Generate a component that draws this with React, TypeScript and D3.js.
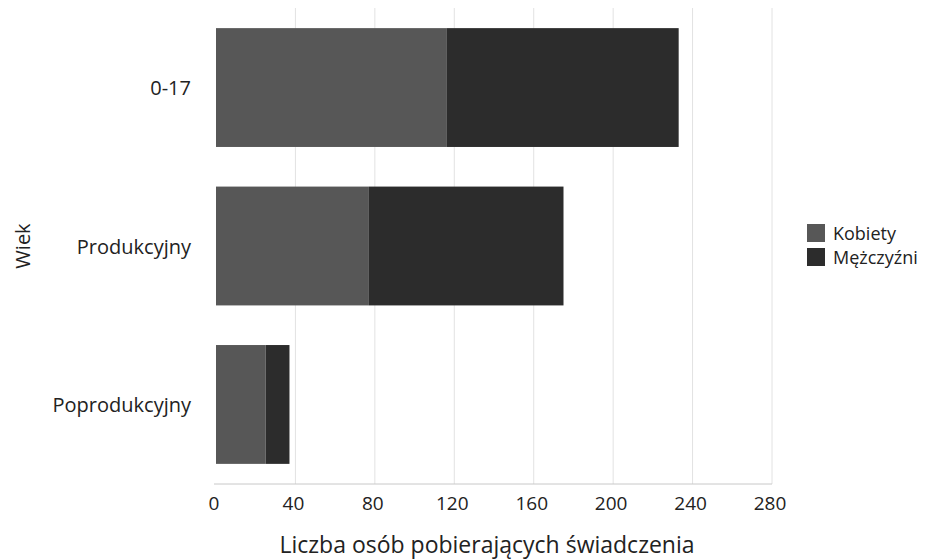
import React from "react";
import * as d3 from "d3";

const categories = ["0-17", "Produkcyjny", "Poprodukcyjny"];
const seriesNames = ["Kobiety", "Mężczyźni"];
const kobiety = [116, 77, 25];
const mezczyzni = [117, 98, 12];
const xTicks = [0, 40, 80, 120, 160, 200, 240, 280];
const colors = ["#575757", "#2c2c2c"];

const W = 938;
const H = 560;
const left = 216;
const right = 772;
const top = 8;
const bottom = 484;
const FONT = "'Open Sans', 'Noto Sans', sans-serif";

export default function App() {
  const x = d3.scaleLinear().domain([0, 280]).range([left, right]);
  const y = d3
    .scaleBand<string>()
    .domain(categories)
    .range([top, bottom])
    .paddingInner(0.25)
    .paddingOuter(0.127);

  const rows = categories.map((c, i) => ({ cat: c, Kobiety: kobiety[i], "Mężczyźni": mezczyzni[i] }));
  const stacked = d3.stack<any>().keys(seriesNames)(rows);

  return (
    <svg
      width={W}
      height={H}
      style={{ position: "absolute", left: 0, top: 0, background: "#fff" }}
      fontFamily={FONT}
    >
      {xTicks.slice(1).map((t) => (
        <line key={t} x1={x(t)} x2={x(t)} y1={top} y2={bottom} stroke="#e2e2e2" strokeWidth={1} />
      ))}
      {stacked.map((s, si) =>
        s.map((d, i) => (
          <rect
            key={si + "-" + i}
            x={x(d[0])}
            y={y(categories[i])}
            width={x(d[1]) - x(d[0])}
            height={y.bandwidth()}
            fill={colors[si]}
          />
        ))
      )}
      <line x1={left - 2} x2={right} y1={bottom} y2={bottom} stroke="#c8c8c8" strokeWidth={1} />
      {xTicks.map((t) => (
        <text key={t} x={x(t) - 2} y={510} textAnchor="middle" fontSize={19} fill="#222">
          {t}
        </text>
      ))}
      {categories.map((c) => (
        <text
          key={c}
          x={191}
          y={(y(c) as number) + y.bandwidth() / 2}
          textAnchor="end"
          dominantBaseline="central"
          fontSize={20}
          fill="#222"
        >
          {c}
        </text>
      ))}
      <text x={487} y={553} textAnchor="middle" fontSize={23} fill="#222">
        Liczba osób pobierających świadczenia
      </text>
      <text
        transform={`translate(30, 246) rotate(-90)`}
        textAnchor="middle"
        fontSize={20}
        fill="#222"
      >
        Wiek
      </text>
      {seriesNames.map((n, i) => (
        <g key={n} transform={`translate(807, ${224 + i * 24})`}>
          <rect width={18} height={18} fill={colors[i]} />
          <text x={26} y={9} dominantBaseline="central" fontSize={18} fill="#222">
            {n}
          </text>
        </g>
      ))}
    </svg>
  );
}
